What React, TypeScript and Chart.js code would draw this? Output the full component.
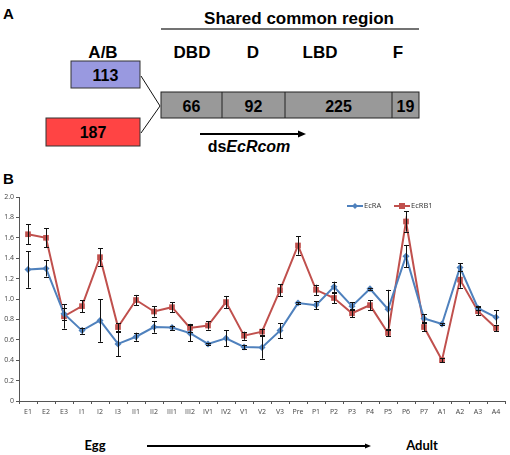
import React, { useEffect, useRef } from "react";
import { Chart, registerables } from "chart.js";
Chart.register(...registerables);

const stages = ["E1","E2","E3","I1","I2","I3","II1","II2","III1","III2","IV1","IV2","V1","V2","V3","Pre","P1","P2","P3","P4","P5","P6","P7","A1","A2","A3","A4"];
const ecrA = [1.29,1.30,0.855,0.69,0.79,0.56,0.63,0.725,0.72,0.665,0.56,0.615,0.53,0.525,0.69,0.96,0.94,1.12,0.93,1.10,0.90,1.42,0.81,0.755,1.31,0.91,0.82];
const ecrAErr = [0.18,0.08,0.06,0.03,0.21,0.12,0.04,0.055,0.02,0.08,0.01,0.08,0.02,0.11,0.075,0.01,0.04,0.05,0.04,0.01,0.19,0.11,0.04,0.01,0.04,0.02,0.07];
const ecrB1 = [1.635,1.60,0.83,0.93,1.41,0.725,0.99,0.877,0.92,0.716,0.74,0.97,0.64,0.68,1.086,1.525,1.09,1.01,0.86,0.94,0.667,1.76,0.725,0.40,1.19,0.88,0.716];
const ecrB1Err = [0.1,0.095,0.12,0.06,0.09,0.04,0.05,0.05,0.05,0.04,0.04,0.06,0.04,0.03,0.06,0.09,0.05,0.05,0.04,0.05,0.03,0.1,0.04,0.02,0.08,0.04,0.03];
const seriesNames = ["EcRA", "EcRB1"];
const domainLabels = ["DBD", "D", "LBD", "F"];
const domainLengths = [66, 92, 225, 19];
const abLengths = [113, 187];

const BLUE = "#4F81BD";
const RED = "#C0504D";

const errorBarPlugin = {
  id: "errorBars",
  afterDatasetsDraw(chart: any) {
    const ctx = chart.ctx;
    const yScale = chart.scales.y;
    const errs = [ecrAErr, ecrB1Err];
    ctx.save();
    ctx.strokeStyle = "#111";
    ctx.lineWidth = 1;
    chart.data.datasets.forEach((ds: any, di: number) => {
      const meta = chart.getDatasetMeta(di);
      meta.data.forEach((pt: any, i: number) => {
        const v = ds.data[i];
        const e = errs[di][i];
        const x = Math.round(pt.x) + 0.5;
        const y1 = yScale.getPixelForValue(v + e);
        const y2 = yScale.getPixelForValue(v - e);
        ctx.beginPath();
        ctx.moveTo(x, y1);
        ctx.lineTo(x, y2);
        ctx.moveTo(x - 2.5, Math.round(y1) + 0.5);
        ctx.lineTo(x + 2.5, Math.round(y1) + 0.5);
        ctx.moveTo(x - 2.5, Math.round(y2) + 0.5);
        ctx.lineTo(x + 2.5, Math.round(y2) + 0.5);
        ctx.stroke();
      });
    });
    ctx.restore();
  },
};

const legendPlugin = {
  id: "customLegend",
  afterDraw(chart: any) {
    const ctx = chart.ctx;
    const items = [
      { name: seriesNames[0], color: BLUE, x0: 347, style: "diamond" },
      { name: seriesNames[1], color: RED, x0: 394, style: "square" },
    ];
    const y = 21;
    ctx.save();
    items.forEach((it) => {
      ctx.strokeStyle = it.color;
      ctx.lineWidth = 2;
      ctx.beginPath();
      ctx.moveTo(it.x0, y);
      ctx.lineTo(it.x0 + 16, y);
      ctx.stroke();
      ctx.fillStyle = it.color;
      const cx = it.x0 + 8;
      if (it.style === "diamond") {
        ctx.beginPath();
        ctx.moveTo(cx, y - 3);
        ctx.lineTo(cx + 3, y);
        ctx.lineTo(cx, y + 3);
        ctx.lineTo(cx - 3, y);
        ctx.closePath();
        ctx.fill();
      } else {
        ctx.fillRect(cx - 3, y - 3, 6, 6);
      }
      ctx.fillStyle = "#333";
      ctx.font = "7.5px 'Open Sans', sans-serif";
      ctx.textBaseline = "middle";
      ctx.textAlign = "left";
      ctx.fillText(it.name, it.x0 + 17, y);
    });
    ctx.restore();
  },
};

function LineChart() {
  const ref = useRef<HTMLCanvasElement | null>(null);
  useEffect(() => {
    if (!ref.current) return;
    const chart = new Chart(ref.current, {
      type: "line",
      data: {
        labels: stages,
        datasets: [
          {
            label: seriesNames[0],
            data: ecrA,
            borderColor: BLUE,
            backgroundColor: BLUE,
            borderWidth: 2,
            pointStyle: "rectRot",
            pointRadius: 3.5,
            pointBorderWidth: 0,
            tension: 0,
          },
          {
            label: seriesNames[1],
            data: ecrB1,
            borderColor: RED,
            backgroundColor: RED,
            borderWidth: 2,
            pointStyle: "rect",
            pointRadius: 4,
            pointBorderWidth: 0,
            tension: 0,
          },
        ],
      },
      options: {
        animation: false,
        responsive: false,
        maintainAspectRatio: false,
        layout: { padding: { top: 12, right: 5, left: 0, bottom: 0 } },
        plugins: { legend: { display: false }, tooltip: { enabled: false } },
        scales: {
          x: {
            offset: true,
            grid: { display: true, drawOnChartArea: false, offset: true, tickLength: 3, color: "#555", tickWidth: 1 },
            border: { color: "#555", width: 1 },
            ticks: { color: "#444", font: { size: 7, family: "'Open Sans', sans-serif" }, maxRotation: 0, autoSkip: false, padding: 4 },
            afterFit: (s: any) => { s.height = 24; },
          },
          y: {
            min: 0,
            max: 2,
            grid: { display: true, drawOnChartArea: false, tickLength: 3, color: "#555" },
            border: { color: "#555", width: 1 },
            ticks: { stepSize: 0.2, color: "#444", font: { size: 7, family: "'Open Sans', sans-serif" }, padding: 2 },
            afterFit: (s: any) => { s.width = 19; },
          },
        },
      },
      plugins: [errorBarPlugin, legendPlugin],
    });
    return () => chart.destroy();
  }, []);
  return (
    <canvas
      ref={ref}
      width={510}
      height={240}
      style={{ position: "absolute", left: 0, top: 185, width: 510, height: 240 }}
    />
  );
}

function PanelA() {
  const f = "'Liberation Sans', Arial, sans-serif";
  const boxX = [161, 222, 285, 392, 419];
  const labelX = [192, 253, 320, 398];
  return (
    <svg width={510} height={170} style={{ position: "absolute", left: 0, top: 0 }}>
      <text x={3} y={19} fontFamily={f} fontWeight="bold" fontSize={15} fill="#000">A</text>
      <text x={299} y={23.5} fontFamily={f} fontWeight="bold" fontSize={17} textAnchor="middle" fill="#000">Shared common region</text>
      <line x1={161} y1={29} x2={419} y2={29} stroke="#444" strokeWidth={1.5} />
      <text x={103} y={57.5} fontFamily={f} fontWeight="bold" fontSize={17} textAnchor="middle">A/B</text>
      {domainLabels.map((d, k) => (
        <text key={d} x={labelX[k]} y={57.5} fontFamily={f} fontWeight="bold" fontSize={17} textAnchor="middle">{d}</text>
      ))}
      <rect x={71} y={61} width={69} height={27} fill="#9999E0" stroke="#333" strokeWidth={1} />
      <text x={105.5} y={81} fontFamily={f} fontWeight="bold" fontSize={16} textAnchor="middle">{abLengths[0]}</text>
      <rect x={46} y={118} width={94} height={28} fill="#FF4444" stroke="#333" strokeWidth={1} />
      <text x={93} y={138} fontFamily={f} fontWeight="bold" fontSize={16} textAnchor="middle">{abLengths[1]}</text>
      <line x1={141} y1={76} x2={160} y2={106} stroke="#111" strokeWidth={1} />
      <line x1={141} y1={133} x2={160} y2={106} stroke="#111" strokeWidth={1} />
      <rect x={161} y={92} width={258} height={26} fill="#999999" stroke="#222" strokeWidth={1} />
      {[1, 2, 3].map((k) => (
        <line key={k} x1={boxX[k]} y1={92} x2={boxX[k]} y2={118} stroke="#222" strokeWidth={1} />
      ))}
      {domainLengths.map((d, k) => (
        <text key={k} x={(boxX[k] + boxX[k + 1]) / 2} y={111.5} fontFamily={f} fontWeight="bold" fontSize={16} textAnchor="middle">{d}</text>
      ))}
      <line x1={200} y1={134} x2={300} y2={134} stroke="#000" strokeWidth={2} />
      <polygon points="306,134 298,130.5 298,137.5" fill="#000" />
      <text x={249} y={152} fontFamily={f} fontWeight="bold" fontSize={16} textAnchor="middle">
        ds<tspan fontStyle="italic">EcRcom</tspan>
      </text>
    </svg>
  );
}

export default function App() {
  useEffect(() => {
    document.body.style.margin = "0";
  }, []);
  const f = "'Liberation Sans', Arial, sans-serif";
  const cf = "Lato, 'Open Sans', sans-serif";
  return (
    <div style={{ position: "relative", width: 510, height: 455, background: "#fff", overflow: "hidden" }}>
      <PanelA />
      <div style={{ position: "absolute", left: 3, top: 171, fontFamily: f, fontWeight: "bold", fontSize: 15, lineHeight: "15px" }}>B</div>
      <LineChart />
      <div style={{ position: "absolute", left: 80, top: 437, width: 30, textAlign: "center", fontFamily: cf, fontWeight: "bold", fontSize: 13, lineHeight: "16px" }}>Egg</div>
      <svg width={510} height={20} style={{ position: "absolute", left: 0, top: 436 }}>
        <line x1={147} y1={10} x2={366} y2={10} stroke="#000" strokeWidth={2} />
        <polygon points="371,10 365,7.5 365,12.5" fill="#000" />
      </svg>
      <div style={{ position: "absolute", left: 402, top: 437, width: 40, textAlign: "center", fontFamily: cf, fontWeight: "bold", fontSize: 13, lineHeight: "16px" }}>Adult</div>
    </div>
  );
}
